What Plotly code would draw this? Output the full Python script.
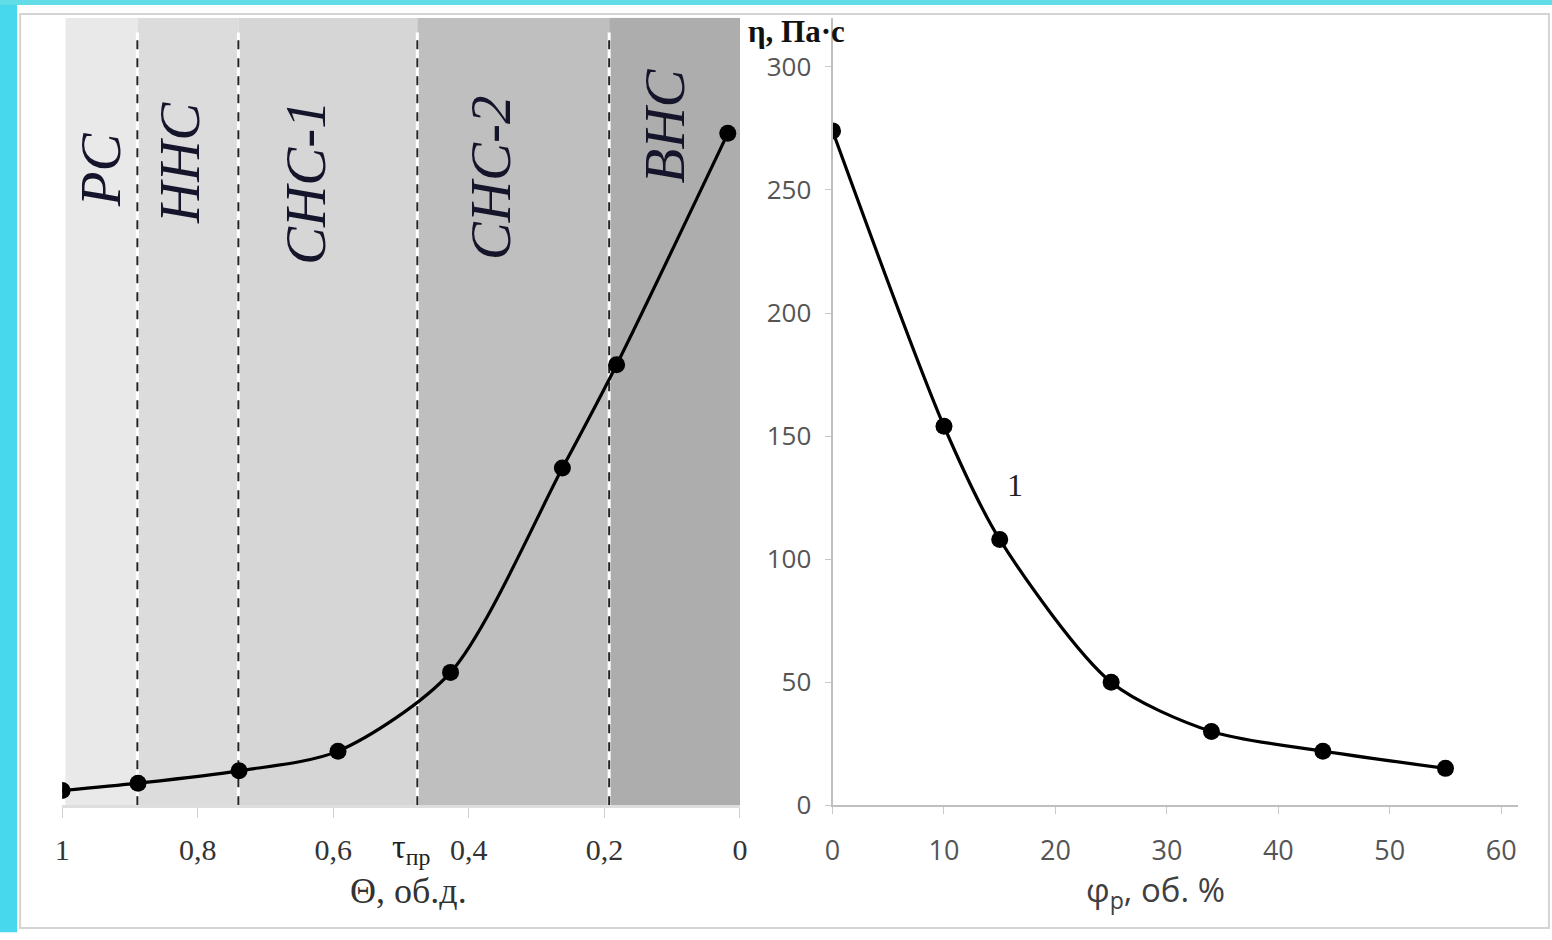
import plotly.graph_objects as go

# Left panel: viscosity vs. filler volume fraction Θ (axis reversed)
theta = [1.0, 0.888, 0.739, 0.593, 0.427, 0.262, 0.182, 0.018]
eta_theta = [6, 9, 14, 22, 54, 137, 179, 273]

# Right panel: viscosity vs. plasticizer content φp
phi_p = [0, 10, 15, 25, 34, 44, 55]
eta_phi = [274, 154, 108, 50, 30, 22, 15]

# Structural zones along Θ
zone_bounds = [0.995, 0.889, 0.740, 0.476, 0.193, 0.0]
zone_names = ["РС", "ННС", "СНС-1", "СНС-2", "ВНС"]
zone_colors = ["#e9e9e9", "#dcdcdc", "#d6d6d6", "#bfbfbf", "#adadad"]
zone_label_x = [0.944, 0.826, 0.641, 0.368, 0.110]
zone_label_y = [258, 261, 253, 255, 276]

theta_ticks = [1, 0.8, 0.6, 0.4, 0.2, 0]
theta_ticktext = ["1", "0,8", "0,6", "0,4", "0,2", "0"]
phi_ticks = [0, 10, 20, 30, 40, 50, 60]
eta_ticks = [0, 50, 100, 150, 200, 250, 300]

W, H = 1552, 940
Y_MAX = 320

# screen-pixel -> paper-fraction helpers
OX, SX = 7.9, 0.9898
OY, SY = 0.0, 0.984


def fx(p):
    return (p - OX) / SX / W


def fy(p):
    return 1 - (p - OY) / SY / H


fig = go.Figure()

fig.add_trace(go.Scatter(
    x=theta, y=eta_theta, xaxis="x", yaxis="y", mode="lines+markers",
    line=dict(color="black", width=3.2, shape="spline", smoothing=0.8),
    marker=dict(color="black", size=17), showlegend=False,
))
fig.add_trace(go.Scatter(
    x=phi_p, y=eta_phi, xaxis="x2", yaxis="y", mode="lines+markers",
    line=dict(color="black", width=3.2, shape="spline", smoothing=0.8),
    marker=dict(color="black", size=17), showlegend=False,
))

shapes = []
# outer frame
shapes.append(dict(type="rect", xref="paper", yref="paper", x0=fx(20), x1=fx(1548),
                   y0=fy(930), y1=fy(14), line=dict(color="#d4d4d4", width=2),
                   fillcolor="rgba(0,0,0,0)", layer="below"))
shapes.append(dict(type="rect", xref="paper", yref="paper", x0=-0.01, x1=fx(17),
                   y0=-0.01, y1=1.01, fillcolor="#48d8ee", line=dict(width=0), layer="above"))
shapes.append(dict(type="rect", xref="paper", yref="paper", x0=-0.01, x1=1.01,
                   y0=fy(5), y1=1.01, fillcolor="#62dde8", line=dict(width=0), layer="above"))

# shaded zones
for i, c in enumerate(zone_colors):
    shapes.append(dict(type="rect", xref="x", yref="y",
                       x0=zone_bounds[i], x1=zone_bounds[i + 1], y0=0, y1=Y_MAX,
                       fillcolor=c, line=dict(width=0), layer="below"))
# zone boundaries
for b in zone_bounds[1:-1]:
    shapes.append(dict(type="line", xref="x", yref="y", x0=b, x1=b, y0=0, y1=314,
                       line=dict(color="white", width=3), layer="below"))
    shapes.append(dict(type="line", xref="x", yref="y", x0=b, x1=b, y0=0, y1=314,
                       line=dict(color="#222222", width=2, dash="dash"), layer="below"))

annotations = []
for name, xx, yy in zip(zone_names, zone_label_x, zone_label_y):
    annotations.append(dict(x=xx, y=yy, xref="x", yref="y", text=name, showarrow=False,
                            textangle=-90, xanchor="center", yanchor="middle",
                            font=dict(family="Liberation Serif", size=57, color="#14142a",
                                      style="italic")))


def label(text, x, y, family, size, color):
    return dict(x=fx(x), y=fy(y), xref="paper", yref="paper", text=text,
                showarrow=False, xanchor="center", yanchor="middle",
                font=dict(family=family, size=size, color=color))


annotations.append(label("<b>η, Па·с</b>", 796, 32, "Liberation Serif", 31, "#111111"))
annotations.append(label("τ<sub>пр</sub>", 411, 851, "Liberation Serif", 34, "#222222"))
annotations.append(label("Θ, об.д.", 408, 893, "Liberation Serif", 36, "#333333"))
annotations.append(label("φ<sub>p</sub>, об. %", 1155, 893, "Open Sans", 33, "#404040"))
annotations.append(dict(x=16.4, y=130, xref="x2", yref="y", text="1", showarrow=False,
                        xanchor="center", yanchor="middle",
                        font=dict(family="Liberation Serif", size=32, color="#222222")))

fig.update_layout(
    width=W, height=H,
    margin=dict(l=0, r=0, t=0, b=0),
    paper_bgcolor="white", plot_bgcolor="rgba(0,0,0,0)",
    shapes=shapes, annotations=annotations,
    xaxis=dict(domain=[fx(62), fx(739.5)], range=[1, 0], anchor="y",
               tickvals=theta_ticks, ticktext=theta_ticktext,
               ticks="outside", ticklen=10, tickcolor="#d0d0d0", tickwidth=1,
               showline=True, linecolor="#dedede", linewidth=3,
               showgrid=False, zeroline=False, ticklabelstandoff=6,
               tickfont=dict(family="Liberation Serif", size=30, color="#333333")),
    xaxis2=dict(domain=[fx(832), fx(1517)], range=[0, 61.5], anchor="y",
                tickvals=phi_ticks, ticks="outside", ticklen=7, tickcolor="#c8c8c8",
                showline=True, linecolor="#bfbfbf", linewidth=2,
                showgrid=False, zeroline=False, ticklabelstandoff=13,
                tickfont=dict(family="Open Sans", size=27, color="#555555")),
    yaxis=dict(domain=[fy(807), fy(17.7)], range=[0, Y_MAX],
               anchor="x2", side="left", tickvals=eta_ticks,
               ticks="outside", ticklen=6, tickcolor="#c8c8c8",
               showline=True, linecolor="#bfbfbf", linewidth=2,
               showgrid=False, zeroline=False, ticklabelstandoff=8,
               tickfont=dict(family="Open Sans", size=26, color="#555555")),
    yaxis2=dict(domain=[fy(807), fy(17.7)], range=[0, Y_MAX],
                overlaying="y", anchor="free", position=fx(743), side="right",
                tickvals=eta_ticks, ticks="outside", ticklen=7, tickcolor="#d4d4d4",
                showticklabels=False, showline=True, linecolor="#e4e4e4", linewidth=1,
                showgrid=False, zeroline=False),
)

fig.write_html("out.html")
